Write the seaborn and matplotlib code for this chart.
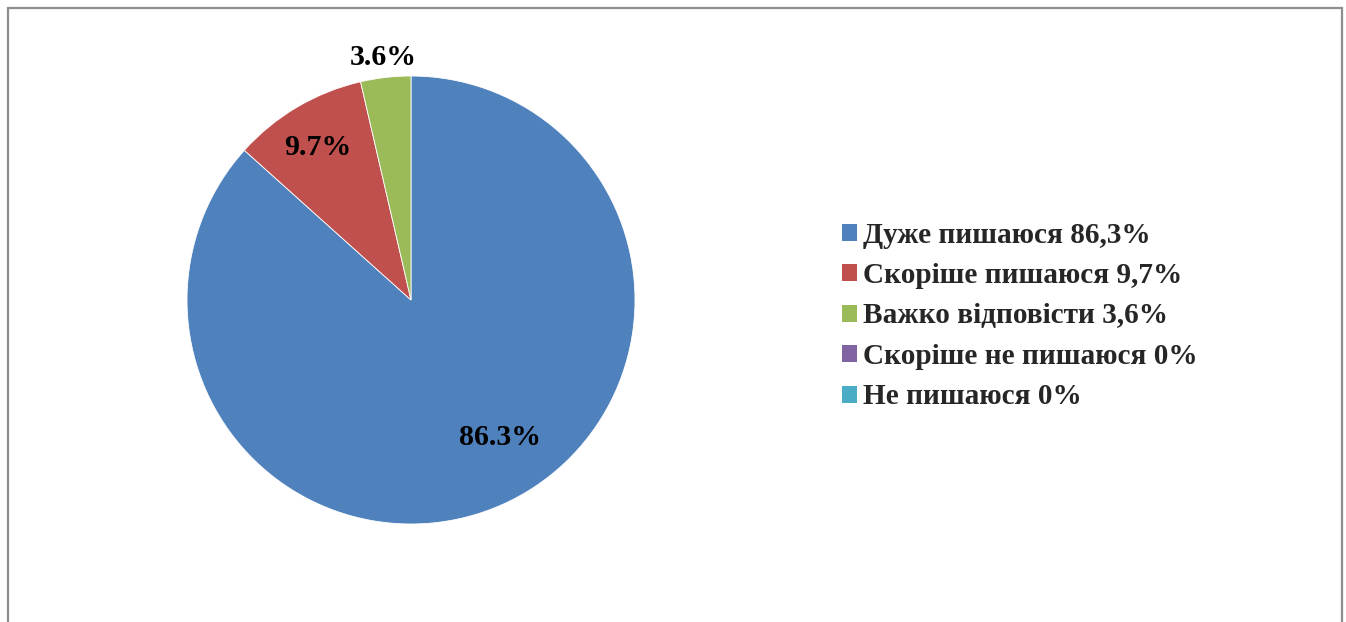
import numpy as np
import matplotlib
matplotlib.use("Agg")
import matplotlib.pyplot as plt
from matplotlib.patches import Patch, Rectangle
import seaborn as sns

# ---- data ----
categories = ["Дуже пишаюся 86,3%", "Скоріше пишаюся 9,7%", "Важко відповісти 3,6%",
              "Скоріше не пишаюся 0%", "Не пишаюся 0%"]
values = [86.3, 9.7, 3.6, 0.0, 0.0]
slice_labels = ["86.3%", "9.7%", "3.6%"]
colors_hex = ["#4F81BD", "#C0504D", "#9BBB59", "#8064A2", "#4BACC6"]

sns.set_theme(style="white")
plt.rcParams["font.family"] = ["Liberation Serif", "DejaVu Serif"]

palette = sns.color_palette(colors_hex)

W, H = 1346, 622
fig = plt.figure(figsize=(W / 100, H / 100), dpi=100)

cx, cy, R = 411, 300, 224
ax = fig.add_axes([(cx - R) / W, (H - cy - R) / H, 2 * R / W, 2 * R / H])

nz = [v for v in values if v > 0]
wedges, _ = ax.pie(nz, colors=palette[:len(nz)], startangle=90, counterclock=False,
                   radius=1.0, wedgeprops=dict(edgecolor="white", linewidth=0.6))
ax.set_xlim(-1, 1)
ax.set_ylim(-1, 1)
ax.set_aspect("equal")
ax.axis("off")

# label placement: (radius fraction, angular shift in degrees)
label_pos = [(0.73, 9.0), (0.80, 1.0), (1.09, 0.0)]
for w, lab, (r, shift) in zip(wedges, slice_labels, label_pos):
    ang = np.deg2rad((w.theta1 + w.theta2) / 2 + shift)
    ax.text(r * np.cos(ang), r * np.sin(ang), lab, ha="center", va="center",
            fontsize=21.5, fontweight="bold", color="black", clip_on=False)

handles = [Patch(facecolor=c, edgecolor="none") for c in palette]
fig.legend(handles, categories, loc="center left", bbox_to_anchor=(842 / W, 1 - 316 / H),
           frameon=False, borderpad=0, borderaxespad=0,
           prop=dict(family=["Liberation Serif", "DejaVu Serif"], weight="bold", size=21.1),
           handlelength=0.51, handleheight=0.51, handletextpad=0.2, labelspacing=0.46)

# outer chart border (bottom lies beyond the image)
fig.patches.append(Rectangle((7.5 / W, -0.05), (1342 - 7.5) / W, 1.05 - 7.5 / H,
                             transform=fig.transFigure, fill=False,
                             edgecolor="#8e8e8e", linewidth=1.6))

fig.savefig("out.png", dpi=100, facecolor="white")
